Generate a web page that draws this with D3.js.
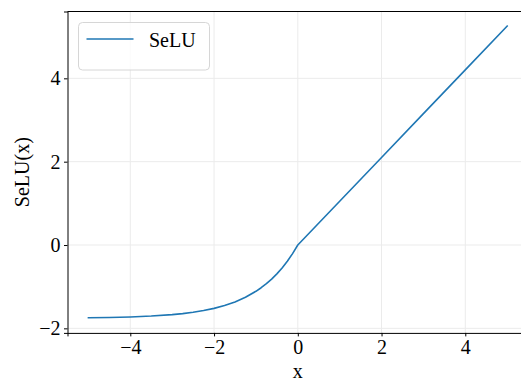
<!DOCTYPE html>
<html><head><meta charset="utf-8">
<script src="https://cdn.jsdelivr.net/npm/d3@7"></script>
<style>
body{margin:0;background:#fff;}
svg{display:block;}
text{font-family:"Liberation Serif","Times New Roman",serif;fill:#000;}
</style></head>
<body><svg id="c" width="521" height="381"></svg>
<script>
const xValues = [-5,-4.5,-4,-3.5,-3,-2.75,-2.5,-2.25,-2,-1.75,-1.5,-1.25,-1,-0.875,-0.75,-0.625,-0.5,-0.375,-0.25,-0.125,0,1,2,3,4,5];
const yValues = [-1.746,-1.739,-1.726,-1.705,-1.671,-1.646,-1.614,-1.573,-1.520,-1.453,-1.366,-1.254,-1.111,-1.025,-0.928,-0.817,-0.692,-0.550,-0.389,-0.207,0,1.051,2.101,3.152,4.203,5.254];
const xTicks = [-4,-2,0,2,4];
const yTicks = [-2,0,2,4];
const seriesName = "SeLU";
const xLabel = "x";
const yLabel = "SeLU(x)";

const svg = d3.select("#c");
const x = d3.scaleLinear().domain([-5.5,5.5]).range([67.5,528.1]);
const y = d3.scaleLinear().domain([-2.109,5.604]).range([332.9,11.5]);
const fmt = d => (d<0 ? "\u2212"+Math.abs(d) : String(d));

// grid
svg.append("g").selectAll("line").data(xTicks).join("line")
  .attr("x1",d=>x(d)).attr("x2",d=>x(d)).attr("y1",y.range()[0]).attr("y2",y.range()[1])
  .attr("stroke","#ebebeb").attr("stroke-width",1);
svg.append("g").selectAll("line").data(yTicks).join("line")
  .attr("y1",d=>y(d)).attr("y2",d=>y(d)).attr("x1",x.range()[0]).attr("x2",x.range()[1])
  .attr("stroke","#ebebeb").attr("stroke-width",1);

// line
const pts = xValues.map((v,i)=>[v,yValues[i]]);
svg.append("path").datum(pts)
  .attr("fill","none").attr("stroke","#1f77b4").attr("stroke-width",1.6)
  .attr("stroke-linejoin","round").attr("stroke-linecap","square")
  .attr("d", d3.line().x(d=>x(d[0])).y(d=>y(d[1])).curve(d3.curveLinear));

// axes
const xAxis = svg.append("g").attr("transform",`translate(0,${y.range()[0]})`)
  .call(d3.axisBottom(x).tickValues(xTicks).tickFormat(fmt).tickSizeOuter(0).tickSize(3.5).tickPadding(3.5));
const yAxis = svg.append("g").attr("transform",`translate(${x.range()[0]},0)`)
  .call(d3.axisLeft(y).tickValues(yTicks).tickFormat(fmt).tickSizeOuter(0).tickSize(3.5).tickPadding(3.5));
[xAxis,yAxis].forEach(g=>{
  g.attr("font-family",null);
  g.selectAll("text").style("font-family","'Liberation Serif',serif").style("font-size","20px").attr("fill","#000");
  g.select(".domain").attr("stroke","#000").attr("stroke-width",1);
  g.selectAll(".tick line").attr("stroke","#000").attr("stroke-width",1);
});
// top spine
svg.append("line").attr("x1",x.range()[0]).attr("x2",x.range()[1]).attr("y1",y.range()[1]).attr("y2",y.range()[1])
  .attr("stroke","#000").attr("stroke-width",1);

// labels
svg.append("text").attr("x",(67.5+528.1)/2).attr("y",378).attr("text-anchor","middle")
  .style("font-size","20px").text(xLabel);
svg.append("text").attr("transform",`translate(29,${(332.9+11.5)/2}) rotate(-90)`).attr("text-anchor","middle")
  .style("font-size","20px").text(yLabel);

// legend
const lg = svg.append("g");
lg.append("rect").attr("x",78.5).attr("y",22.5).attr("width",131).attr("height",47.5).attr("rx",4)
  .attr("fill","#fff").attr("fill-opacity",0.8).attr("stroke","#d6d6d6").attr("stroke-width",1);
lg.append("line").attr("x1",86.5).attr("x2",133.5).attr("y1",39).attr("y2",39)
  .attr("stroke","#1f77b4").attr("stroke-width",1.6);
lg.append("text").attr("x",149).attr("y",46.5).style("font-size","20px").text(seriesName);
</script></body></html>
